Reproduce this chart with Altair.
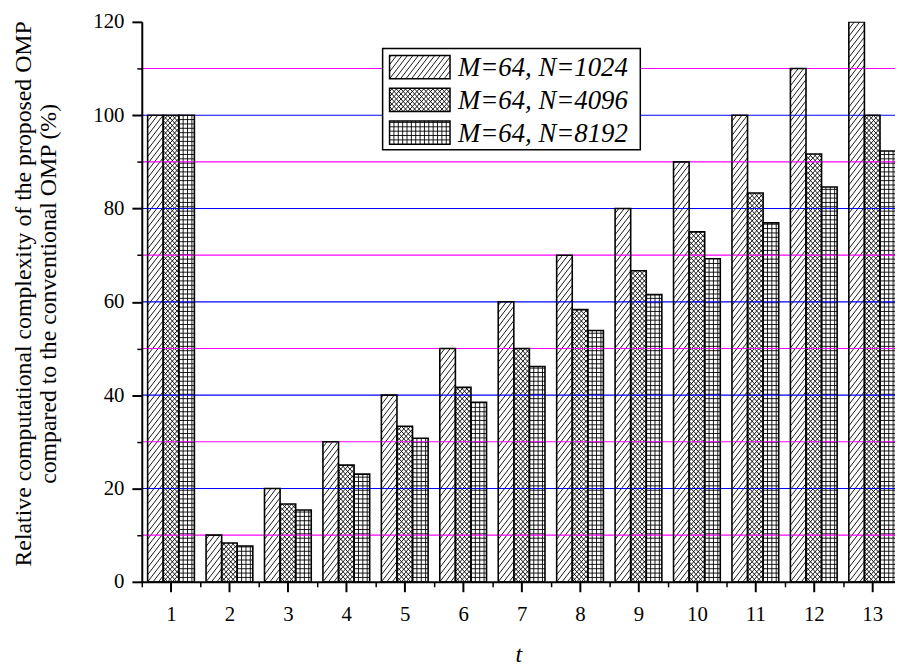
import math
import altair as alt
import pandas as pd

# ---------------- data ----------------
t_values = list(range(1, 14))
series_labels = ["M=64, N=1024", "M=64, N=4096", "M=64, N=8192"]
n1024 = [100, 10, 20, 30, 40, 50, 60, 70, 80, 90, 100, 110, 120]
n4096 = [100, 8.33, 16.67, 25, 33.33, 41.67, 50, 58.33, 66.67, 75, 83.33, 91.67, 100]
n8192 = [100, 7.69, 15.38, 23.08, 30.77, 38.46, 46.15, 53.85, 61.54, 69.23, 76.92, 84.62, 92.31]
series_values = [n1024, n4096, n8192]

y_major_ticks = [0, 20, 40, 60, 80, 100, 120]
y_minor_ticks = [10, 30, 50, 70, 90, 110]
x_major_ticks = t_values
x_minor_ticks = [0.5, 1.5, 2.5, 3.5, 4.5, 5.5, 6.5, 7.5, 8.5, 9.5, 10.5, 11.5, 12.5]
grid_levels = [10, 20, 30, 40, 50, 60, 70, 80, 90, 100, 110]
grid_colors = ["#ff00ff", "#0000ff", "#ff00ff", "#0000ff", "#ff00ff", "#0000ff",
               "#ff00ff", "#0000ff", "#ff00ff", "#0000ff", "#ff00ff"]

y_title = ["Relative computational complexity of the proposed OMP",
           "compared to the conventional OMP (%)"]

# ---------------- layout / style ----------------
W, H = 760, 565
X_MIN, X_MAX = 0.5, 13.39
Y_MIN, Y_MAX = 0, 120
PX = W / (X_MAX - X_MIN)
PY = H / (Y_MAX - Y_MIN)
GROUP_W = 0.8
BAR_W = GROUP_W / 3
PATTERNS = ["diag", "cross", "grid"]
FONT = "Liberation Serif"


def line_family(w, h, a, period):
    """segments of lines z = a*u + c clipped to [0,w]x[0,h] (pixel space)"""
    segs = []
    if a > 0:
        cmin, cmax = -a * w, h
    else:
        cmin, cmax = 0, h - a * w
    k = math.ceil(cmin / period)
    while k * period <= cmax:
        c = k * period
        r1 = (0 - c) / a
        r2 = (h - c) / a
        lo = max(0.0, min(r1, r2))
        hi = min(w, max(r1, r2))
        if hi - lo > 0.3:
            segs.append((lo, a * lo + c, hi, a * hi + c))
        k += 1
    return segs


def hatch(pattern, w, h):
    if pattern == "diag":
        return line_family(w, h, 1.3, 7.15)
    if pattern == "cross":
        return line_family(w, h, 1.1, 5.06) + line_family(w, h, -1.1, 5.06)
    s = 4.4
    segs = []
    u = s
    while u < w - 0.8:
        segs.append((u, 0, u, h))
        u += s
    z = s
    while z < h - 0.8:
        segs.append((0, z, w, z))
        z += s
    return segs


# bars
bar_rows = []
hatch_rows = []
for si, (label, vals) in enumerate(zip(series_labels, series_values)):
    for t, v in zip(t_values, vals):
        x0 = t - GROUP_W / 2 + si * BAR_W
        x1 = x0 + BAR_W
        bar_rows.append({"t": t, "series": label, "x0": x0, "x1": x1, "y0": 0, "value": v})
        for (u1, z1, u2, z2) in hatch(PATTERNS[si], BAR_W * PX, v * PY):
            hatch_rows.append({"x": round(x0 + u1 / PX, 4), "x2": round(x0 + u2 / PX, 4),
                               "y": round(z1 / PY, 4), "y2": round(z2 / PY, 4)})
bars = pd.DataFrame(bar_rows)
hatch_df = pd.DataFrame(hatch_rows)
grid_df = pd.DataFrame({"level": grid_levels, "color": grid_colors})


def px2x(p):
    return X_MIN + p / PX


def py2y(p):
    return (H - p) / PY


# legend layout (plot pixel coordinates)
LB_L, LB_T, LB_R, LB_B = 243, 27, 503, 129
SW_L, SW_R = 250, 311
SW_TOPS = [34, 67, 100]
SW_H = 23.5
TXT_X = 319

legend_box = pd.DataFrame([{"x": px2x(LB_L), "x2": px2x(LB_R), "y": py2y(LB_B), "y2": py2y(LB_T)}])
sw_rows, sw_hatch, txt_rows = [], [], []
for si, label in enumerate(series_labels):
    top = SW_TOPS[si]
    bottom = top + SW_H
    sw_rows.append({"x": px2x(SW_L), "x2": px2x(SW_R), "y": py2y(bottom), "y2": py2y(top)})
    for (u1, z1, u2, z2) in hatch(PATTERNS[si], SW_R - SW_L, SW_H):
        sw_hatch.append({"x": px2x(SW_L + u1), "x2": px2x(SW_L + u2),
                         "y": py2y(bottom - z1), "y2": py2y(bottom - z2)})
    txt_rows.append({"x": px2x(TXT_X), "y": py2y(top + SW_H / 2 + 9), "label": label})
sw_df = pd.DataFrame(sw_rows)
sw_hatch_df = pd.DataFrame(sw_hatch)
txt_df = pd.DataFrame(txt_rows)

xscale = alt.Scale(domain=[X_MIN, X_MAX], nice=False, zero=False)
yscale = alt.Scale(domain=[Y_MIN, Y_MAX], nice=False)

main_x = alt.Axis(values=x_major_ticks, orient="bottom", tickSize=10, tickWidth=2,
                  domainWidth=2, labelFontSize=21, labelPadding=12, labelFlush=False,
                  labelAngle=0, format="d", grid=False, zindex=2,
                  title="t", titleFontStyle="italic", titleFontSize=24,
                  titleFontWeight="normal", titleBaseline="alphabetic", titleY=80)
minor_x = alt.Axis(values=x_minor_ticks, orient="bottom", tickSize=5, tickWidth=1.5,
                   labels=False, domain=False, grid=False, title=None, zindex=2)
main_y = alt.Axis(values=y_major_ticks, orient="left", tickSize=10, tickWidth=2,
                  domainWidth=2, labelFontSize=21, labelPadding=8, labelFlush=False,
                  grid=False, zindex=2, title=y_title, titleFontSize=24,
                  titleFontWeight="normal", titleX=-112, titleY=274,
                  titleBaseline="alphabetic", titleLineHeight=25)
minor_y = alt.Axis(values=y_minor_ticks, orient="left", tickSize=5, tickWidth=1.5,
                   labels=False, domain=False, grid=False, title=None, zindex=2)


def rect_enc(xa=None, ya=None, xf="x", x2f="x2", yf="y", y2f="y2"):
    return dict(x=alt.X(f"{xf}:Q", scale=xscale, axis=xa),
                x2=alt.X2(x2f),
                y=alt.Y(f"{yf}:Q", scale=yscale, axis=ya),
                y2=alt.Y2(y2f))


bar_fill = alt.Chart(bars).mark_rect(fill="white", strokeWidth=0, clip=True).encode(
    **rect_enc(main_x, main_y, "x0", "x1", "y0", "value"))

hatch_layer = alt.Chart(hatch_df).mark_rule(color="black", strokeWidth=0.9, clip=True).encode(
    **rect_enc(minor_x, minor_y))

grid_layer = alt.Chart(grid_df).mark_rule(strokeWidth=1.1).encode(
    y=alt.Y("level:Q", scale=yscale, axis=None),
    color=alt.Color("color:N", scale=None))

bar_outline = alt.Chart(bars).mark_rect(fillOpacity=0, stroke="black", strokeWidth=1.6,
                                        clip=True).encode(
    **rect_enc(None, None, "x0", "x1", "y0", "value"))

leg_box = alt.Chart(legend_box).mark_rect(fill="white", stroke="black", strokeWidth=1.5).encode(
    **rect_enc())
leg_hatch = alt.Chart(sw_hatch_df).mark_rule(color="black", strokeWidth=0.9).encode(
    **rect_enc())
leg_sw = alt.Chart(sw_df).mark_rect(fillOpacity=0, stroke="black", strokeWidth=1.5).encode(
    **rect_enc())
leg_txt = alt.Chart(txt_df).mark_text(align="left", baseline="alphabetic", font=FONT,
                                      fontStyle="italic", fontSize=27, color="black").encode(
    x=alt.X("x:Q", scale=xscale, axis=None),
    y=alt.Y("y:Q", scale=yscale, axis=None),
    text="label:N")

chart = alt.layer(
    bar_fill, hatch_layer, grid_layer, bar_outline, leg_box, leg_hatch, leg_sw, leg_txt
).resolve_axis(x="independent", y="independent").properties(
    width=W, height=H,
    autosize=alt.AutoSizeParams(type="none"),
    padding={"left": 135, "top": 11, "right": 0, "bottom": 85},
    background="white",
).configure_axis(
    labelFont=FONT, titleFont=FONT, labelColor="black", titleColor="black",
    domainColor="black", tickColor="black",
).configure_view(stroke=None)

chart.save("out.html", embed_options={"renderer": "svg", "actions": False})
